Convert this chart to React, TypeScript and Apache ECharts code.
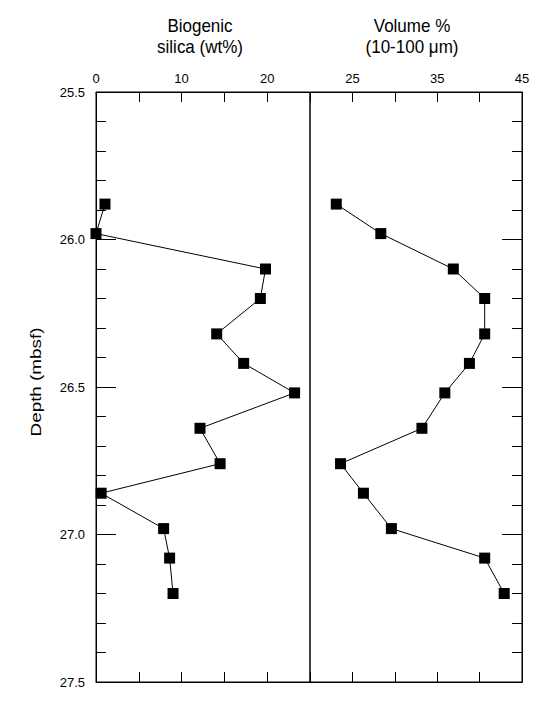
import React, { useEffect, useRef } from "react";
import * as echarts from "echarts";

const depths = [25.88, 25.98, 26.1, 26.2, 26.32, 26.42, 26.52, 26.64, 26.76, 26.86, 26.98, 27.08, 27.2];
const silica = [1.05, 0.0, 19.8, 19.2, 14.1, 17.25, 23.2, 12.15, 14.5, 0.6, 7.9, 8.6, 9.0];
const volume = [23.1, 28.35, 36.9, 40.6, 40.6, 38.8, 35.9, 33.2, 23.6, 26.3, 29.6, 40.6, 42.9];
const silicaTickLabels = [0, 10, 20];
const volumeTickLabels = [25, 35, 45];
const depthRange = [25.5, 27.5];

const FONT = "'Liberation Sans', Arial, Helvetica, sans-serif";

export default function App() {
  const ref = useRef<HTMLDivElement>(null);
  useEffect(() => {
    if (!ref.current) return;
    const chart = echarts.init(ref.current, undefined, { renderer: "svg" });
    const black = "#000";
    const xAx = (gridIndex: number, min: number, max: number, labels: number[], showLabels: boolean, pos: "top" | "bottom") => ({
      type: "value",
      gridIndex,
      position: pos,
      min,
      max,
      interval: 5,
      axisLine: { show: true, lineStyle: { color: black, width: 1 } },
      axisTick: { show: true, inside: true, length: 10, lineStyle: { color: black, width: 1 } },
      axisLabel: {
        show: showLabels,
        margin: 7,
        fontSize: 13,
        color: black,
        fontFamily: FONT,
        formatter: (v: number) => (labels.indexOf(Math.round(v)) >= 0 ? String(Math.round(v)) : ""),
      },
      splitLine: { show: false },
    });
    const yAx = (gridIndex: number, pos: "left" | "right", showLabels: boolean) => ({
      type: "value",
      gridIndex,
      position: pos,
      inverse: true,
      min: depthRange[0],
      max: depthRange[1],
      interval: 0.5,
      axisLine: { show: true, lineStyle: { color: black, width: 1 } },
      axisTick: { show: true, inside: true, length: 20, lineStyle: { color: black, width: 1 } },
      minorTick: { show: true, splitNumber: 5, length: 10, lineStyle: { color: black, width: 1 } },
      axisLabel: {
        show: showLabels,
        margin: 11,
        fontSize: 13,
        color: black,
        fontFamily: FONT,
        formatter: (v: number) => v.toFixed(1),
      },
      splitLine: { show: false },
    });
    const seriesStyle = {
      type: "line",
      symbol: "rect",
      symbolSize: 11,
      itemStyle: { color: black, borderWidth: 0 },
      lineStyle: { color: black, width: 1 },
      z: 5,
    };
    const titleText = (text: string, x: number, y: number) => ({
      type: "text",
      x,
      y,
      scaleY: 1.1,
      style: { text, font: `17px ${FONT}`, fill: black, textAlign: "center", textVerticalAlign: "middle" },
    });
    chart.setOption({
      animation: false,
      backgroundColor: "#fff",
      textStyle: { fontFamily: FONT },
      grid: [
        { left: 96, top: 92, width: 214, height: 590, show: true, borderColor: black, borderWidth: 1, backgroundColor: "transparent" },
        { left: 310, top: 92, width: 212, height: 590, show: true, borderColor: black, borderWidth: 1, backgroundColor: "transparent" },
      ],
      xAxis: [
        xAx(0, 0, 25, silicaTickLabels, true, "top"),
        xAx(0, 0, 25, silicaTickLabels, false, "bottom"),
        xAx(1, 20, 45, volumeTickLabels, true, "top"),
        xAx(1, 20, 45, volumeTickLabels, false, "bottom"),
      ],
      yAxis: [yAx(0, "left", true), yAx(1, "right", false)],
      graphic: [
        titleText("Biogenic", 200, 26),
        titleText("silica (wt%)", 200, 47),
        titleText("Volume %", 412, 26),
        titleText("(10-100 \u03bcm)", 412, 47),
        {
          type: "text",
          x: 36,
          y: 382,
          rotation: Math.PI / 2,
          scaleX: 1.3,
          style: { text: "Depth (mbsf)", font: `14.5px ${FONT}`, fill: black, textAlign: "center", textVerticalAlign: "middle" },
        },
      ],
      series: [
        { ...seriesStyle, name: "silica", xAxisIndex: 0, yAxisIndex: 0, data: depths.map((d, i) => [silica[i], d]) },
        { ...seriesStyle, name: "volume", xAxisIndex: 2, yAxisIndex: 1, data: depths.map((d, i) => [volume[i], d]) },
      ],
    });
    return () => chart.dispose();
  }, []);
  return <div ref={ref} style={{ position: "absolute", left: 0, top: 0, width: 545, height: 709 }} />;
}
